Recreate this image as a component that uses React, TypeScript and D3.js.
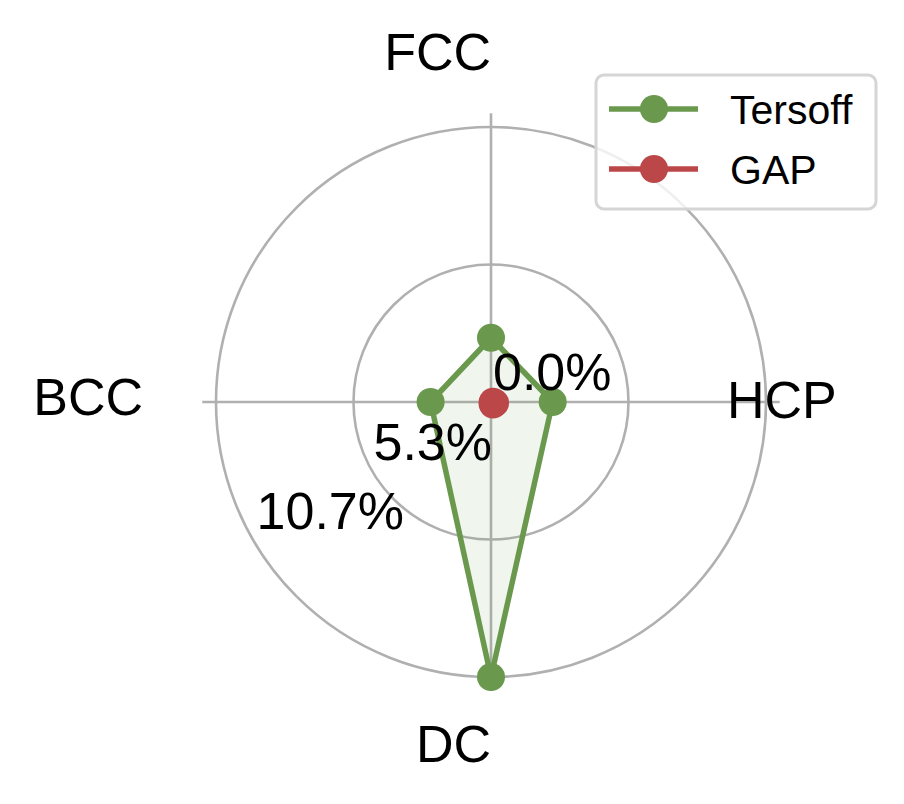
import React from "react";
import * as d3 from "d3";

const categories = ["FCC", "HCP", "DC", "BCC"];
const tersoff = [2.5, 2.4, 10.7, 2.35];
const gap = [0.05, 0.08, 0.06, 0.02];
const gridTicks = [5.35, 10.7];
const tickLabels = ["0.0%", "5.3%", "10.7%"];
const seriesNames = ["Tersoff", "GAP"];
const seriesColors = ["#6A994E", "#BC4749"];

const W = 904;
const H = 804;
const cx = 491;
const cy = 402;
const FONT = "'Liberation Sans', Arial, Helvetica, sans-serif";

export default function App() {
  const r = d3.scaleLinear().domain([0, 10.7]).range([0, 275]);
  const rMax = r(10.7 * 1.05);
  const angle = d3
    .scaleLinear()
    .domain([0, categories.length])
    .range([0, 2 * Math.PI]);
  const ang = (i: number) => angle(i);
  const line = d3
    .lineRadial<number>()
    .angle((_, i) => ang(i))
    .radius((d) => r(d))
    .curve(d3.curveLinearClosed);
  const pt = (v: number, i: number): [number, number] => {
    const a = ang(i);
    return [Math.sin(a) * r(v), -Math.cos(a) * r(v)];
  };

  const catLabel = [
    { x: 0, y: -332, anchor: "end" },
    { x: 236, y: 16, anchor: "start" },
    { x: 0, y: 360, anchor: "end" },
    { x: -348, y: 13, anchor: "end" },
  ];
  const tickPos = [
    { x: 2, y: -12, anchor: "start" },
    { x: 1, y: 58, anchor: "end" },
    { x: -87, y: 127, anchor: "end" },
  ];

  return (
    <svg
      width={W}
      height={H}
      style={{ position: "absolute", left: 0, top: 0, background: "#fff" }}
      fontFamily={FONT}
    >
      <g transform={`translate(${cx},${cy})`}>
        {gridTicks.map((t) => (
          <circle key={t} r={r(t)} fill="none" stroke="#b0b0b0" strokeWidth={2.6} />
        ))}
        {categories.map((c, i) => {
          const a = ang(i);
          return (
            <line
              key={c}
              x1={0}
              y1={0}
              x2={Math.sin(a) * rMax}
              y2={-Math.cos(a) * rMax}
              stroke="#b0b0b0"
              strokeWidth={2.6}
            />
          );
        })}
        <path d={line(tersoff) ?? ""} fill={seriesColors[0]} fillOpacity={0.1} stroke="none" />
        <path d={line(tersoff) ?? ""} fill="none" stroke={seriesColors[0]} strokeWidth={5.5} strokeLinejoin="round" />
        {tersoff.map((v, i) => {
          const [x, y] = pt(v, i);
          return <circle key={i} cx={x} cy={y} r={14} fill={seriesColors[0]} />;
        })}
        <path d={line(gap) ?? ""} fill={seriesColors[1]} fillOpacity={0.1} stroke="none" />
        <path d={line(gap) ?? ""} fill="none" stroke={seriesColors[1]} strokeWidth={5.5} />
        {gap.map((v, i) => {
          const [x, y] = pt(v, i);
          return <circle key={i} cx={x + 2} cy={y + 1} r={14} fill={seriesColors[1]} />;
        })}
        {tickLabels.map((t, i) => (
          <text
            key={t}
            x={tickPos[i].x}
            y={tickPos[i].y}
            textAnchor={tickPos[i].anchor}
            fontSize={52}
            fill="#000"
          >
            {t}
          </text>
        ))}
        {categories.map((c, i) => (
          <text
            key={c}
            x={catLabel[i].x}
            y={catLabel[i].y}
            textAnchor={catLabel[i].anchor}
            fontSize={52}
            fill="#000"
          >
            {c}
          </text>
        ))}
      </g>
      <g>
        <rect
          x={596}
          y={75}
          width={280}
          height={134}
          rx={8}
          fill="#fff"
          fillOpacity={0.8}
          stroke="#d5d5d5"
          strokeWidth={3}
        />
        {seriesNames.map((s, i) => {
          const y = 109 + i * 60;
          return (
            <g key={s}>
              <line x1={609} x2={698} y1={y} y2={y} stroke={seriesColors[i]} strokeWidth={5.5} />
              <circle cx={654} cy={y} r={14} fill={seriesColors[i]} />
              <text x={730} y={y + 15} fontSize={41} fill="#000">
                {s}
              </text>
            </g>
          );
        })}
      </g>
    </svg>
  );
}
